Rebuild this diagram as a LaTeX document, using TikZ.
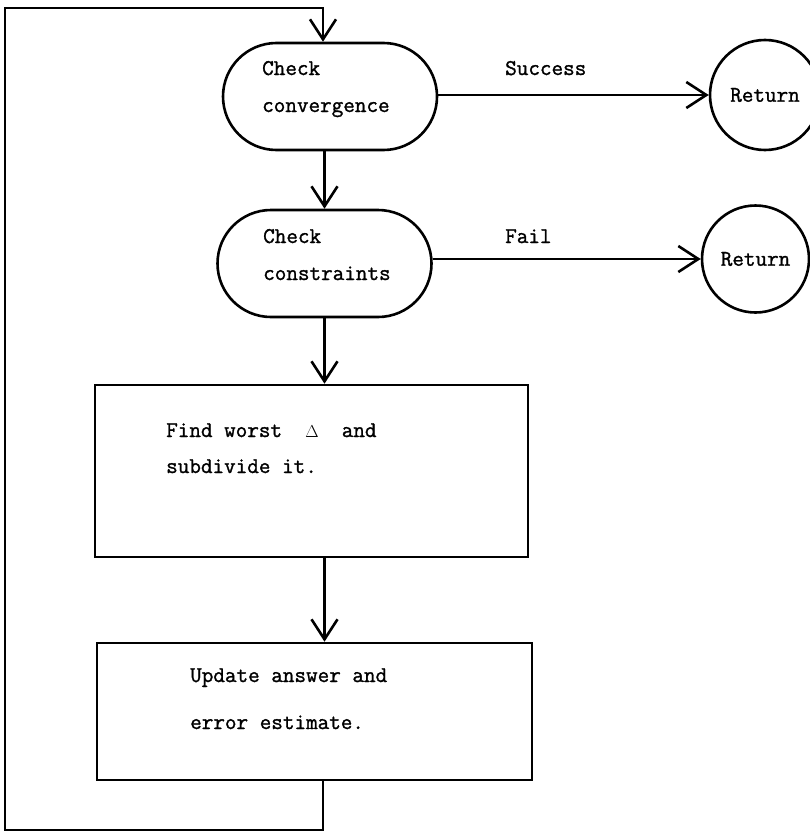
\documentclass[tikz,border=0pt]{standalone}
\usepackage{fontspec}
\setmonofont[FakeBold=1.3]{Latin Modern Mono}
\usetikzlibrary{arrows.meta,shapes.misc}
\newcommand\diagfont{\ttfamily\fontsize{22.5}{26}\selectfont}
\begin{document}
\begin{tikzpicture}[x=1pt,y=-1pt,
  lw/.style={line width=2.6pt},
  arr/.style={lw, -{Straight Barb[length=20pt,width=26pt,line width=2.6pt]}},
  term/.style={draw, lw, rounded rectangle, minimum width=214pt, minimum height=107pt, inner sep=0pt},
  proc/.style={draw, lw, rectangle, inner sep=0pt},
  ret/.style={draw, lw, circle, inner sep=0pt, font=\diagfont},
  txt/.style={anchor=base west, inner sep=0pt, font=\diagfont}
]
\useasboundingbox (0,0) rectangle (810,835);

% shapes
\node[term] (t1) at (330,96.5) {};
\node[term] (t2) at (324.5,263.5) {};
\node[proc, minimum width=433pt, minimum height=172pt] (b1) at (311.5,471) {};
\node[proc, minimum width=435pt, minimum height=137pt] (b2) at (314.5,711.5) {};
\node[ret, minimum size=110pt] (r1) at (765,95) {Return};
\node[ret, minimum size=107pt] (r2) at (755.5,259) {Return};

% texts
\node[txt] (t1a) at (262,75) {Check};
\node[txt] (t1b) at (262,112) {convergence};
\node[txt] (t2a) at (263,243) {Check};
\node[txt] (t2b) at (263,280) {constraints};
\node[txt] (b1a) at (166,437) {Find worst~~{\fontsize{19}{20}\selectfont$\Delta$}~~and};
\node[txt] (b1b) at (166,473) {subdivide it.};
\node[txt] (b2a) at (190,682) {Update answer and};
\node[txt] (b2b) at (190,729) {error estimate.};
\node[txt] (ls) at (505,75) {Success};
\node[txt] (lf) at (505,243) {Fail};

% connectors
\coordinate (l1) at (323,830);
\coordinate (l2) at (5,830);
\coordinate (l3) at (5,8);
\coordinate (l4) at (323,8);
\draw[arr] (b2.south -| l1) -- (l1) -- (l2) -- (l3) -- (l4) -- (t1.north -| l4);
\draw[arr] (t1.south -| t2.north) -- (t2.north);
\draw[arr] (t2.south) -- (t2.south |- b1.north);
\draw[arr] (b1.south -| t2.south) -- (b2.north -| t2.south);
\draw[arr] (t1.east |- r1) -- (r1.west);
\draw[arr] (t2.east |- r2) -- (r2.west);
\end{tikzpicture}
\end{document}
